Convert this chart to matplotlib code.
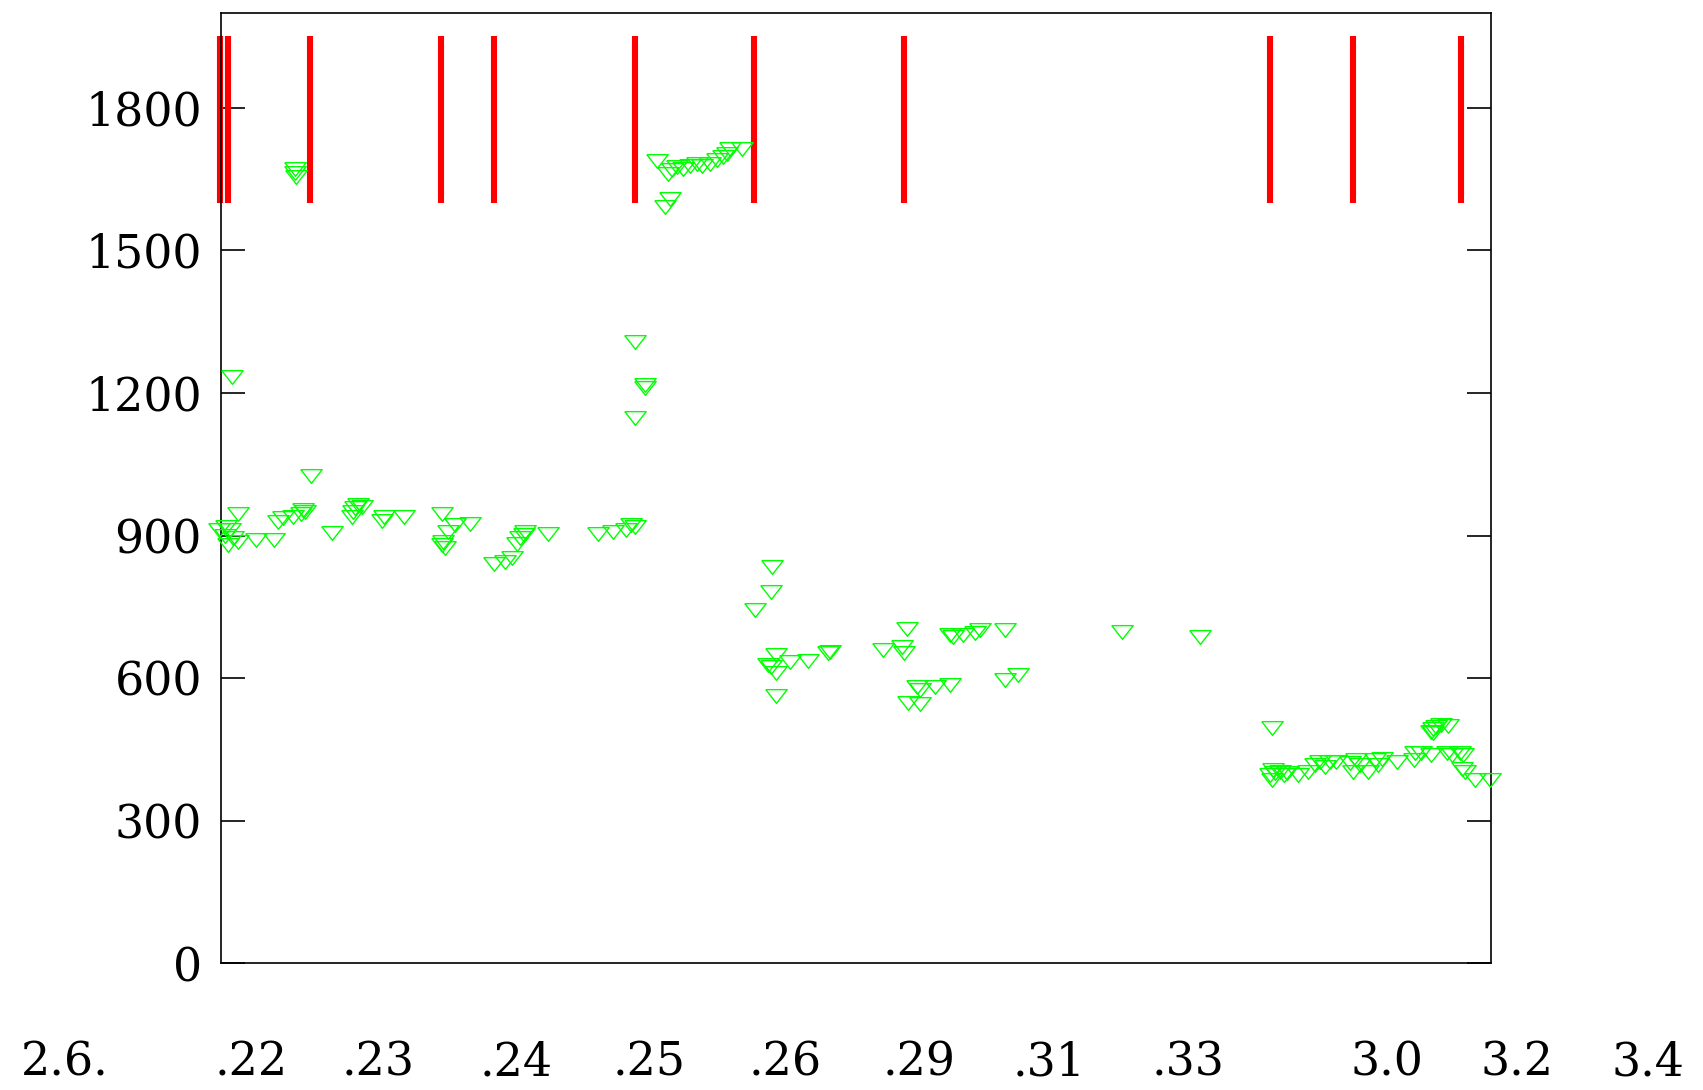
import numpy as np
import matplotlib
matplotlib.use("Agg")
import matplotlib.pyplot as plt


# x in percent of the axis width, y in data units
pts_x = [7.03, 1.33, 0.4, 0.67, 0.28, 0.93, 0.54, 1.33, -0.2,
         2.69, 4.16, 4.48, 4.87, 5.66, 6.45, 6.6, 6.26, 8.68,
         10.78, 10.5, 10.25, 10.4, 11.04, 12.62, 12.8, 14.38, 17.4,
         17.34, 17.45, 17.6, 17.87, 18.4, 19.6,
         21.5, 22.3, 22.86, 23.25, 23.5, 23.8, 23.9, 25.74,
         29.7, 30.86, 31.86, 32.3, 32.57,
         43.34, 43.26, 42.0, 43.68, 43.07, 43.3, 43.7, 43.7,
         44.78, 46.2, 47.8, 47.9, 52.08, 53.97, 53.63, 53.76,
         55.02, 54.76, 56.2, 57.4, 54.1, 55.0,
         57.4, 57.65, 58.43, 59.35, 59.75, 61.72, 61.72, 62.76,
         70.9, 77.08,
         0.8, 5.78, 5.78, 5.9, 32.6, 33.36, 33.4, 32.6,
         34.28, 35.46, 35.2, 35.86, 36.38, 36.9, 37.43, 37.83, 38.48,
         39.0, 39.53, 39.8, 40.06, 40.98, 35.33, 34.94,
         82.72, 95.45, 95.7, 96.1, 96.6, 95.3, 95.4,
         82.72, 82.6, 83.0, 83.4, 82.86, 83.66, 83.9, 84.8, 85.6,
         86.1, 86.5, 86.9, 87.3, 87.8, 88.9, 89.15, 89.4, 89.7,
         90.3, 90.9, 91.1, 91.4, 92.6, 94.0, 93.9, 94.5, 95.3,
         96.5, 96.9, 97.56, 97.8, 97.7, 97.95, 98.74, 99.92]
pts_y = [1025, 946, 918, 911, 900, 894, 880, 886, 912,
         890, 890, 928, 936, 939, 953, 949, 946, 905,
         964, 957, 939, 950, 960, 931, 939, 940, 946,
         880, 887, 873, 907, 922, 925,
         841, 845, 853, 883, 894, 901, 907, 904,
         904, 907, 911, 922, 919,
         834, 781, 744, 648, 627, 624, 610, 563,
         634, 636, 652, 655, 659, 703, 666, 652,
         575, 582, 582, 585, 547, 545,
         690, 687, 690, 695, 701, 701, 596, 606,
         697, 687,
         1233, 1663, 1671, 1655, 1307, 1211, 1217, 1148,
         1687, 1668, 1661, 1675, 1671, 1678, 1682, 1678, 1682,
         1689, 1696, 1703, 1713, 1713, 1608, 1591,
         496, 494, 498, 501, 499, 487, 484,
         386, 396, 400, 403, 407, 396, 400, 396, 403,
         417, 424, 414, 424, 424, 421, 403, 428, 417,
         403, 428, 417, 431, 424, 442, 428, 442, 438,
         442, 438, 442, 438, 410, 403, 386, 386]

red_x = [-0.1, 0.53, 6.95, 17.32, 21.48, 32.57, 41.98, 53.74, 82.62, 89.17, 97.65]
red_lo, red_hi = 1600, 1950

yticks = [0, 300, 600, 900, 1200, 1500, 1800]
xlabels = ["2.6.", ".22", ".23", ".24", ".25", ".26", ".29", ".31", ".33", "3.0", "3.2", "3.4"]
xlabel_pos = [-0.123, 0.0232, 0.1233, 0.2325, 0.3367, 0.4439, 0.5494, 0.6518, 0.7613, 0.9178, 1.0205, 1.1237]

fnt = "DejaVu Serif"

fig = plt.figure(figsize=(17.03, 10.90), dpi=100)
ax = fig.add_axes([0.130, 0.1161, 0.7455, 0.8724])

ax.vlines(red_x, red_lo, red_hi, color="#ff0000", linewidth=4.4,
          capstyle="butt", clip_on=False, zorder=2)

tri = [(-1, 0.64), (1, 0.64), (0, -0.64), (-1, 0.64)]
ax.plot(pts_x, pts_y, linestyle="none", marker=tri, markersize=15.4,
        markerfacecolor="none", markeredgecolor="#00ff00",
        markeredgewidth=1.0, clip_on=False, zorder=3)

ax.set_xlim(0, 100)
ax.set_ylim(0, 2000)
ax.set_xticks([])
ax.set_yticks(yticks)
ax.set_yticklabels([str(v) for v in yticks], fontsize=33, family=fnt)
ax.tick_params(axis="y", direction="in", left=True, right=True,
               length=17.5, width=1.2, pad=14)
for s in ax.spines.values():
    s.set_linewidth(1.2)

for lab, p in zip(xlabels, xlabel_pos):
    ax.text(p, -0.1046, lab, transform=ax.transAxes, ha="center", va="center",
            fontsize=33, family=fnt, clip_on=False)

fig.savefig("out.png", dpi=100)
